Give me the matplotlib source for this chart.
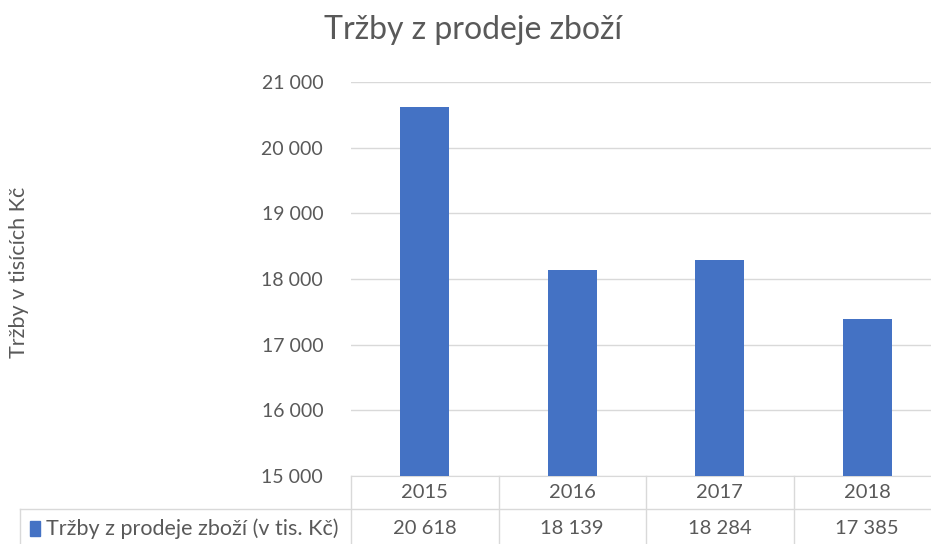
import matplotlib
matplotlib.use("Agg")
import matplotlib.pyplot as plt
import matplotlib.transforms as mtransforms
from matplotlib.patches import Rectangle

# data
years = ["2015", "2016", "2017", "2018"]
sales = [20618, 18139, 18284, 17385]
value_labels = ["20 618", "18 139", "18 284", "17 385"]
yticks = [15000, 16000, 17000, 18000, 19000, 20000, 21000]
ytick_labels = ["15 000", "16 000", "17 000", "18 000", "19 000", "20 000", "21 000"]

title = "Tržby z prodeje zboží"
ylabel = "Tržby v tisících Kč"
series_name = "Tržby z prodeje zboží (v tis. Kč)"

bar_color = "#4472c4"
text_color = "#595959"
grid_color = "#d9d9d9"

plt.rcParams["font.family"] = ["Lato", "DejaVu Sans"]

W, H = 931, 544
fig = plt.figure(figsize=(W / 100, H / 100), dpi=100)

# plot area in pixels (runs a bit past the right edge, like the screenshot)
left_px, right_px, top_px, bottom_px = 351, 941, 82, 476
ax = fig.add_axes([left_px / W, 1 - bottom_px / H,
                   (right_px - left_px) / W, (bottom_px - top_px) / H])

x = list(range(len(years)))
ax.bar(x, sales, width=0.33, color=bar_color, zorder=3)
ax.set_xlim(-0.5, len(years) - 0.5)
ax.set_ylim(15000, 21000)
ax.set_yticks(yticks)
ax.set_yticklabels(ytick_labels, fontsize=14, color=text_color)
ax.set_xticks([])
ax.tick_params(axis="y", length=0, pad=20)
ax.grid(axis="y", color=grid_color, linewidth=1, zorder=0)
for s in ["top", "right", "left"]:
    ax.spines[s].set_visible(False)
ax.spines["bottom"].set_color(grid_color)

fig.text(473 / W, 1 - 30 / H, title, fontsize=23, color=text_color,
         ha="center", va="center")
fig.text(19 / W, 1 - 272 / H, ylabel, fontsize=15.5, color=text_color,
         ha="center", va="center", rotation=90)

# data table under the axis
px_h = bottom_px - top_px
def yfrac(py):
    return (bottom_px - py) / px_h

trans = mtransforms.blended_transform_factory(ax.transData, ax.transAxes)
row_line = yfrac(509)
table_bottom = yfrac(560)
line_kw = dict(color=grid_color, linewidth=1, clip_on=False)

for b in [i - 0.5 for i in range(len(years) + 1)]:
    ax.plot([b, b], [0, table_bottom], transform=trans, **line_kw)
legend_left = (20 - left_px) / (right_px - left_px)
ax.plot([legend_left, 1.1], [row_line, row_line], transform=ax.transAxes, **line_kw)
ax.plot([legend_left, legend_left], [row_line, table_bottom],
        transform=ax.transAxes, **line_kw)

for i, yr in enumerate(years):
    ax.text(i, yfrac(493), yr, transform=trans, ha="center", va="center",
            fontsize=14.5, color=text_color)
    ax.text(i, yfrac(529), value_labels[i], transform=trans, ha="center",
            va="center", fontsize=14.5, color=text_color)

fig.patches.append(Rectangle((30 / W, 1 - 536 / H), 10 / W, 15 / H,
                             color=bar_color, transform=fig.transFigure))
fig.text(46 / W, 1 - 529 / H, series_name, fontsize=15.5, color=text_color,
         ha="left", va="center")

fig.savefig("out.png", dpi=100)
